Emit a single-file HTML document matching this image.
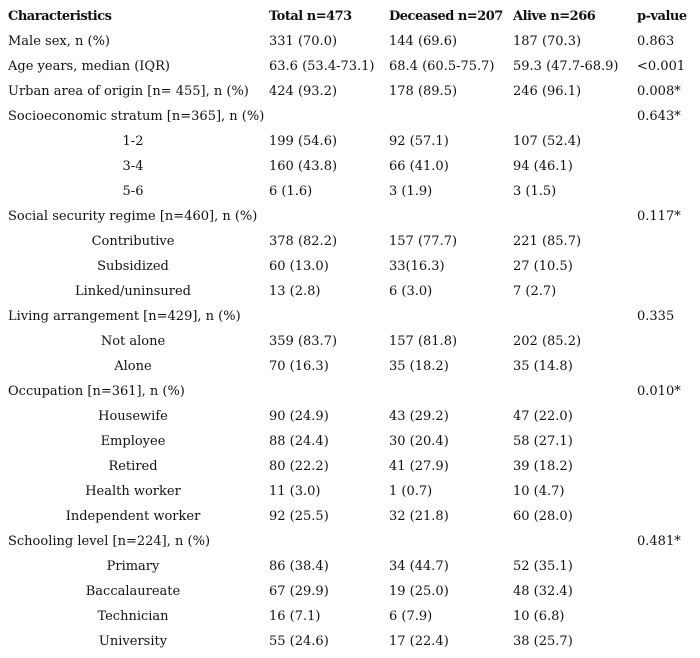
<!DOCTYPE html>
<html><head><meta charset="utf-8"><style>
body{margin:0;width:700px;height:658px;background:#fff;overflow:hidden;font-family:"DejaVu Serif","Liberation Serif",serif;font-size:13px;color:#111}
.r{position:absolute;left:0;width:700px;height:25px;line-height:25px}
.c{position:absolute;top:0;white-space:nowrap}
.c0{left:8px}.ci{left:8px;width:250px;text-align:center}
.c1{left:269px}.c2{left:389px}.c3{left:513px}.c4{left:637px}
.h{font-weight:bold;font-size:13px;letter-spacing:-0.5px}
</style></head><body>
<div id="t"></div>
<script>
const rows=[
["Characteristics","Total n=473","Deceased n=207","Alive n=266","p-value",0,1],
["Male sex, n (%)","331 (70.0)","144 (69.6)","187 (70.3)","0.863",0],
["Age years, median (IQR)","63.6 (53.4-73.1)","68.4 (60.5-75.7)","59.3 (47.7-68.9)","<0.001",0],
["Urban area of origin [n= 455], n (%)","424 (93.2)","178 (89.5)","246 (96.1)","0.008*",0],
["Socioeconomic stratum [n=365], n (%)","","","","0.643*",0],
["1-2","199 (54.6)","92 (57.1)","107 (52.4)","",1],
["3-4","160 (43.8)","66 (41.0)","94 (46.1)","",1],
["5-6","6 (1.6)","3 (1.9)","3 (1.5)","",1],
["Social security regime [n=460], n (%)","","","","0.117*",0],
["Contributive","378 (82.2)","157 (77.7)","221 (85.7)","",1],
["Subsidized","60 (13.0)","33(16.3)","27 (10.5)","",1],
["Linked/uninsured","13 (2.8)","6 (3.0)","7 (2.7)","",1],
["Living arrangement [n=429], n (%)","","","","0.335",0],
["Not alone","359 (83.7)","157 (81.8)","202 (85.2)","",1],
["Alone","70 (16.3)","35 (18.2)","35 (14.8)","",1],
["Occupation [n=361], n (%)","","","","0.010*",0],
["Housewife","90 (24.9)","43 (29.2)","47 (22.0)","",1],
["Employee","88 (24.4)","30 (20.4)","58 (27.1)","",1],
["Retired","80 (22.2)","41 (27.9)","39 (18.2)","",1],
["Health worker","11 (3.0)","1 (0.7)","10 (4.7)","",1],
["Independent worker","92 (25.5)","32 (21.8)","60 (28.0)","",1],
["Schooling level [n=224], n (%)","","","","0.481*",0],
["Primary","86 (38.4)","34 (44.7)","52 (35.1)","",1],
["Baccalaureate","67 (29.9)","19 (25.0)","48 (32.4)","",1],
["Technician","16 (7.1)","6 (7.9)","10 (6.8)","",1],
["University","55 (24.6)","17 (22.4)","38 (25.7)","",1]
];
const names=["label","total","deceased","alive","p-value"];
const t=document.getElementById('t');
rows.forEach((r,i)=>{
 const d=document.createElement('div');
 d.className='r'+(r[6]?' h':'');
 d.style.top=(4+25*i)+'px';
 
 
 for(let k=0;k<5;k++){
  const c=document.createElement('div');
  c.className='c '+(k===0?(r[5]?'ci':'c0'):'c'+k);
  c.textContent=r[k];
  
  
  d.appendChild(c);
 }
 t.appendChild(d);
});
</script>
</body></html>
